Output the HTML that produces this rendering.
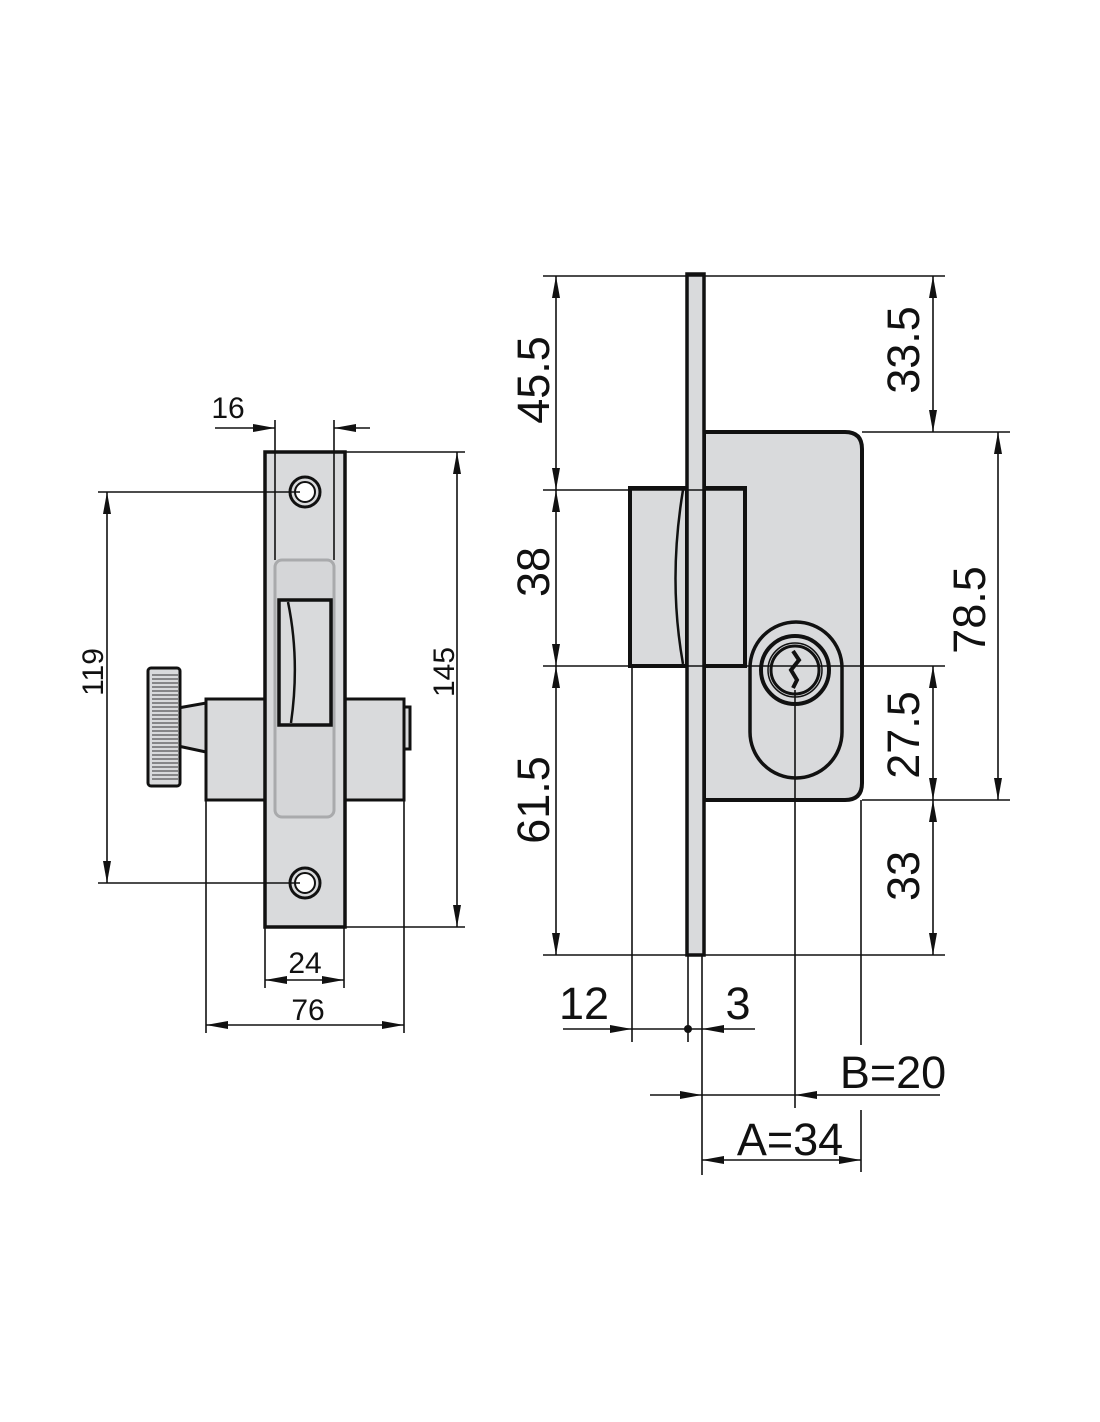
<!DOCTYPE html>
<html><head><meta charset="utf-8"><style>
html,body{margin:0;padding:0;background:#fff;width:1100px;height:1422px;overflow:hidden}
svg{display:block}
text{font-family:"Liberation Sans","DejaVu Sans",sans-serif;fill:#111}
</style></head><body>
<svg width="1100" height="1422" viewBox="0 0 1100 1422" xmlns="http://www.w3.org/2000/svg">
<defs>
<marker id="a" viewBox="0 0 22 8" refX="22" refY="4" markerWidth="22" markerHeight="8" markerUnits="userSpaceOnUse" orient="auto-start-reverse"><path d="M0,0 L22,4 L0,8 z" fill="#111"/></marker>
</defs>

<!-- ===== LEFT VIEW ===== -->
<g stroke="#111" fill="#d9dadc">
  <path d="M178,708 L206,703 L206,752 L178,746 Z" stroke-width="3"/>
  <rect x="148" y="668" width="32" height="118" rx="3" stroke-width="3"/>
  <rect x="206" y="699" width="198" height="101" stroke-width="3"/>
  <rect x="404" y="707" width="6" height="42" stroke-width="3"/>
  <rect x="265" y="452" width="80" height="475" stroke-width="3.5"/>
  <rect x="275" y="560" width="59" height="257" rx="7" stroke="#a9aaac" stroke-width="3" fill="#d5d6d8"/>
  <rect x="279" y="600" width="52" height="125" stroke-width="3.5"/>
  <path d="M288,602 Q300,660 291,723" fill="none" stroke-width="2.5"/>
  <circle cx="305" cy="492" r="15" stroke-width="3"/>
  <circle cx="305" cy="492" r="10" stroke-width="2" fill="#fff"/>
  <circle cx="305" cy="883" r="15" stroke-width="3"/>
  <circle cx="305" cy="883" r="10" stroke-width="2" fill="#fff"/>
</g>
<g stroke="#333" stroke-width="1">
  <path d="M152,675H178M152,679H178M152,683H178M152,687H178M152,691H178M152,695H178M152,699H178M152,703H178M152,707H178M152,711H178M152,715H178M152,719H178M152,723H178M152,727H178M152,731H178M152,735H178M152,739H178M152,743H178M152,747H178M152,751H178M152,755H178M152,759H178M152,763H178M152,767H178M152,771H178M152,775H178M152,779H178"/>
</g>
<g stroke="#111" stroke-width="1.6" fill="none">
  <line x1="275" y1="420" x2="275" y2="560"/>
  <line x1="334" y1="420" x2="334" y2="560"/>
  <line x1="215" y1="428" x2="275" y2="428" marker-end="url(#a)"/>
  <line x1="370" y1="428" x2="334" y2="428" marker-end="url(#a)"/>
  <line x1="98" y1="492" x2="300" y2="492"/>
  <line x1="98" y1="883" x2="300" y2="883"/>
  <line x1="107" y1="492" x2="107" y2="883" marker-start="url(#a)" marker-end="url(#a)"/>
  <line x1="345" y1="452" x2="465" y2="452"/>
  <line x1="345" y1="927" x2="465" y2="927"/>
  <line x1="457" y1="452" x2="457" y2="927" marker-start="url(#a)" marker-end="url(#a)"/>
  <line x1="265" y1="927" x2="265" y2="988"/>
  <line x1="344" y1="927" x2="344" y2="988"/>
  <line x1="265" y1="980" x2="344" y2="980" marker-start="url(#a)" marker-end="url(#a)"/>
  <line x1="206" y1="800" x2="206" y2="1033"/>
  <line x1="404" y1="800" x2="404" y2="1033"/>
  <line x1="206" y1="1025" x2="404" y2="1025" marker-start="url(#a)" marker-end="url(#a)"/>
</g>
<g font-size="30">
  <text x="228" y="418" text-anchor="middle">16</text>
  <text x="305" y="973" text-anchor="middle">24</text>
  <text x="308" y="1020" text-anchor="middle">76</text>
  <text transform="translate(103,672) rotate(-90)" text-anchor="middle">119</text>
  <text transform="translate(454,672) rotate(-90)" text-anchor="middle">145</text>
</g>

<!-- ===== RIGHT VIEW ===== -->
<g stroke="#111" fill="#d9dadc">
  <path d="M704,432 H845 Q862,432 862,449 V783 Q862,800 845,800 H704 Z" stroke-width="4"/>
  <rect x="630" y="488" width="57" height="178" stroke-width="4"/>
  <path d="M683,490 Q668,580 683,664" fill="none" stroke-width="2.5"/>
  <rect x="704" y="488" width="41" height="178" stroke-width="4"/>
  <path d="M750,668 A46,46 0 0 1 842,668 V732 A46,46 0 0 1 750,732 Z" stroke-width="3.5"/>
  <circle cx="795" cy="670" r="34" stroke-width="4"/>
  <circle cx="795" cy="670" r="27" stroke-width="1.5"/>
  <circle cx="795" cy="670" r="24" stroke-width="3"/>
  <path d="M793,651 L799,660 L791,670 L797,680 L793,688" fill="none" stroke-width="4"/>
  <rect x="687" y="274" width="17" height="681" stroke-width="3.5"/>
</g>
<g stroke="#111" stroke-width="1.6" fill="none">
  <line x1="543" y1="276" x2="945" y2="276"/>
  <line x1="543" y1="490" x2="745" y2="490"/>
  <line x1="543" y1="666" x2="945" y2="666"/>
  <line x1="543" y1="955" x2="945" y2="955"/>
  <line x1="556" y1="276" x2="556" y2="490" marker-start="url(#a)" marker-end="url(#a)"/>
  <line x1="556" y1="490" x2="556" y2="666" marker-start="url(#a)" marker-end="url(#a)"/>
  <line x1="556" y1="666" x2="556" y2="955" marker-start="url(#a)" marker-end="url(#a)"/>
  <line x1="862" y1="432" x2="1010" y2="432"/>
  <line x1="862" y1="800" x2="1010" y2="800"/>
  <line x1="933" y1="276" x2="933" y2="432" marker-start="url(#a)" marker-end="url(#a)"/>
  <line x1="933" y1="666" x2="933" y2="800" marker-start="url(#a)" marker-end="url(#a)"/>
  <line x1="933" y1="800" x2="933" y2="955" marker-start="url(#a)" marker-end="url(#a)"/>
  <line x1="998" y1="432" x2="998" y2="800" marker-start="url(#a)" marker-end="url(#a)"/>
  <line x1="632" y1="666" x2="632" y2="1042"/>
  <line x1="688" y1="955" x2="688" y2="1042"/>
  <line x1="702" y1="955" x2="702" y2="1175"/>
  <line x1="795" y1="690" x2="795" y2="1108"/>
  <line x1="861" y1="800" x2="861" y2="1045"/>
  <line x1="861" y1="1110" x2="861" y2="1172"/>
  <line x1="563" y1="1029" x2="632" y2="1029" marker-end="url(#a)"/>
  <line x1="632" y1="1029" x2="702" y2="1029"/>
  <line x1="755" y1="1029" x2="702" y2="1029" marker-end="url(#a)"/>
  <line x1="650" y1="1095" x2="702" y2="1095" marker-end="url(#a)"/>
  <line x1="702" y1="1095" x2="795" y2="1095"/>
  <line x1="940" y1="1095" x2="795" y2="1095" marker-end="url(#a)"/>
  <line x1="702" y1="1160" x2="861" y2="1160" marker-start="url(#a)" marker-end="url(#a)"/>
</g>
<circle cx="688" cy="1029" r="4" fill="#111"/>
<g font-size="45">
  <text transform="translate(549,380) rotate(-90)" text-anchor="middle">45.5</text>
  <text transform="translate(549,572) rotate(-90)" text-anchor="middle">38</text>
  <text transform="translate(549,800) rotate(-90)" text-anchor="middle">61.5</text>
  <text transform="translate(919,350) rotate(-90)" text-anchor="middle">33.5</text>
  <text transform="translate(985,610) rotate(-90)" text-anchor="middle">78.5</text>
  <text transform="translate(919,735) rotate(-90)" text-anchor="middle">27.5</text>
  <text transform="translate(919,876) rotate(-90)" text-anchor="middle">33</text>
  <text x="584" y="1019" text-anchor="middle">12</text>
  <text x="738" y="1019" text-anchor="middle">3</text>
  <text x="893" y="1088" text-anchor="middle">B=20</text>
  <text x="790" y="1155" text-anchor="middle">A=34</text>
</g>
</svg>
</body></html>
